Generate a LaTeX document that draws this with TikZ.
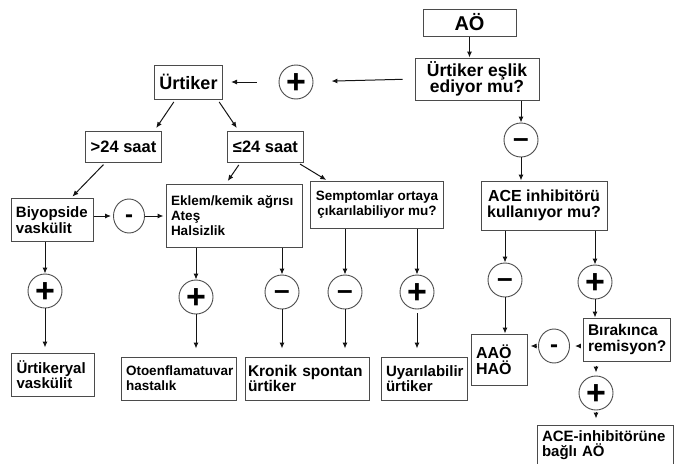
\documentclass[tikz,border=0pt]{standalone}
\usepackage{fontspec}
\setmainfont{Liberation Sans}
\usetikzlibrary{arrows.meta, shapes.geometric}
\definecolor{kutuCizgi}{RGB}{75, 75, 75}
\definecolor{okSiyah}{RGB}{20, 20, 20}
\newcommand{\artiisaret}{\raisebox{-0.35em}{+}}
\newcommand{\eksiisaret}{\raisebox{-0.27em}{–}}
\newcommand{\tireisaret}{\raisebox{-0.27em}{-}}

\begin{document}
\begin{tikzpicture}[x=1pt, y=-1pt,
    kutu/.style={draw=kutuCizgi, line width=1pt, inner xsep=5pt, inner ysep=2pt, align=center, font=\bfseries\fontsize{15}{15.5}\selectfont},
    solkutu/.style={kutu, align=left},
    isaret/.style={draw=kutuCizgi, circle, line width=0.9pt, minimum size=34pt, inner sep=0pt, text height=0pt, text depth=0pt},
    arti/.style={isaret, font=\bfseries\fontsize{34}{34}\selectfont},
    eksi/.style={isaret, font=\bfseries\fontsize{28}{28}\selectfont},
    kucukeksi/.style={isaret, ellipse, minimum width=31pt, minimum height=34pt, font=\bfseries\fontsize{24}{24}\selectfont},
    ok/.style={-{Latex[length=6pt,width=5pt]}, line width=1pt, okSiyah}]
    \useasboundingbox (0,0) rectangle (687,463);
    \clip (0,0) rectangle (687,463);

    % Ust kisim
    \node[kutu, minimum width=93pt, minimum height=27pt, font=\bfseries\fontsize{20}{20}\selectfont] (ao) at (469.5,22.5) {AÖ};
    \node[kutu, minimum width=124pt, minimum height=42pt, font=\bfseries\fontsize{17.5}{16.5}\selectfont] (eslik) at (477,79) {Ürtiker eşlik\\ediyor mu?};
    \node[arti] (arti1) at (296,82) {\artiisaret};
    \node[kutu, minimum width=67pt, minimum height=34pt, font=\bfseries\fontsize{18}{18}\selectfont] (urtiker) at (188.5,82) {Ürtiker};
    \node[eksi] (eksi2) at (521,140) {\eksiisaret};

    % Sure kutulari
    \node[kutu, minimum width=71pt, minimum height=31pt, font=\bfseries\fontsize{16.5}{16.5}\selectfont] (uzun) at (123.5,146.5) {>24 saat};
    \node[kutu, minimum width=71pt, minimum height=31pt, font=\bfseries\fontsize{16.5}{16.5}\selectfont] (kisa) at (265.5,146.5) {≤24 saat};

    % Orta sira
    \node[solkutu, text width=72pt, minimum height=43pt] (biyopsi) at (52,220) {Biyopside\\vaskülit};
    \node[kucukeksi] (eksi1) at (129,216) {\tireisaret};
    \node[solkutu, text width=126pt, minimum height=63pt, font=\bfseries\fontsize{13.5}{15}\selectfont] (eklem) at (234,215.5) {Eklem/kemik ağrısı\\Ateş\\Halsizlik};
    \node[kutu, minimum width=130pt, minimum height=47pt, font=\bfseries\fontsize{13.5}{15}\selectfont] (semptom) at (377,205) {Semptomlar ortaya\\çıkarılabiliyor mu?};
    \node[kutu, minimum width=126pt, minimum height=49pt, font=\bfseries\fontsize{16}{15.5}\selectfont] (ace) at (544,205.5) {ACE inhibitörü\\kullanıyor mu?};

    % Isaretler
    \node[arti] (arti2) at (45,291) {\artiisaret};
    \node[arti] (arti3) at (196,297) {\artiisaret};
    \node[eksi] (eksi3) at (282,292) {\eksiisaret};
    \node[eksi] (eksi4) at (345,292) {\eksiisaret};
    \node[arti] (arti4) at (417,292) {\artiisaret};
    \node[eksi] (eksi5) at (505,280) {\eksiisaret};
    \node[arti] (arti5) at (595,282) {\artiisaret};

    % Sonuc kutulari
    \node[solkutu, text width=73pt, minimum height=43pt] (urtvask) at (53,374.5) {Ürtikeryal\\vaskülit};
    \node[solkutu, text width=105pt, minimum height=43pt, font=\bfseries\fontsize{13.5}{15}\selectfont] (oto) at (178.5,378.5) {Otoenflamatuvar\\hastalık};
    \node[solkutu, inner xsep=3pt, text width=118pt, minimum height=43pt, font=\bfseries\fontsize{15.5}{15.5}\selectfont] (kronik) at (307,378.5) {Kronik spontan\\ürtiker};
    \node[solkutu, text width=76pt, minimum height=43pt] (uyar) at (424,378.5) {Uyarılabilir\\ürtiker};
    \node[solkutu, text width=46pt, minimum height=51pt, font=\bfseries\fontsize{16}{16}\selectfont] (aao) at (499,359.5) {AAÖ\\HAÖ};
    \node[kucukeksi] (eksi6) at (554,346) {\tireisaret};
    \node[solkutu, text width=77pt, minimum height=43pt, font=\bfseries\fontsize{15.5}{15.5}\selectfont] (biraki) at (626.5,339.5) {Bırakınca\\remisyon?};
    \node[arti] (arti6) at (596,393) {\artiisaret};
    \node[solkutu, text width=126pt, minimum height=40pt] (acebag) at (605,445) {ACE-inhibitörüne\\bağlı AÖ};

    % Oklar
    \draw[ok] (ao) -- (ao |- eslik.north);
    \draw[ok, shorten <=12pt, shorten >=18pt] (eslik.west) -- (arti1);
    \draw[ok, shorten <=22pt, shorten >=8pt] (arti1) -- (urtiker);
    \draw[ok, shorten <=3pt, shorten >=3pt] ([xshift=-13pt]urtiker.south) -- ([xshift=31pt]uzun.north);
    \draw[ok, shorten <=3pt, shorten >=3pt] ([xshift=29pt]urtiker.south) -- ([xshift=-27pt]kisa.north);
    \draw[ok, shorten <=3pt, shorten >=2pt] ([xshift=-18pt]uzun.south) -- ([xshift=19pt]biyopsi.north);
    \draw[ok, shorten <=3pt, shorten >=3pt] ([xshift=-25pt]kisa.south) -- ([xshift=-8pt]eklem.north);
    \draw[ok, shorten <=3pt, shorten >=2pt] ([xshift=32pt]kisa.south) -- ([xshift=-49pt]semptom.north);
    \draw[ok, shorten >=2pt] (biyopsi.east |- eksi1) -- (eksi1);
    \draw[ok, shorten >=2pt] (eksi1) -- (eksi1 -| eklem.west);

    \draw[ok] (arti2 |- biyopsi.south) -- (arti2);
    \draw[ok] (arti3 |- eklem.south) -- (arti3);
    \draw[ok] (eksi3 |- eklem.south) -- (eksi3);
    \draw[ok] (eksi4 |- semptom.south) -- (eksi4);
    \draw[ok] (arti4 |- semptom.south) -- (arti4);
    \draw[ok, shorten >=5pt] (arti2) -- (arti2 |- urtvask.north);
    \draw[ok, shorten >=8pt] (arti3) -- (arti3 |- oto.north);
    \draw[ok, shorten >=8pt] (eksi3) -- (eksi3 |- kronik.north);
    \draw[ok, shorten >=8pt] (eksi4) -- (eksi4 |- kronik.north);
    \draw[ok, shorten <=4pt, shorten >=8pt] (arti4) -- (arti4 |- uyar.north);

    \draw[ok] (eksi2 |- eslik.south) -- (eksi2);
    \draw[ok] (eksi2) -- (eksi2 |- ace.north);
    \draw[ok] (eksi5 |- ace.south) -- (eksi5);
    \draw[ok] (arti5 |- ace.south) -- (arti5);
    \draw[ok] (eksi5) -- (eksi5 |- aao.north);
    \draw[ok] (arti5) -- (arti5 |- biraki.north);
    % kisa oklar
    \draw[ok, shorten <=2pt, shorten >=5pt] (biraki.west |- eksi6) -- (eksi6);
    \draw[ok, shorten <=1pt, shorten >=3pt] (eksi6) -- (eksi6 -| aao.east);
    \draw[ok, shorten <=4pt, shorten >=3pt] (arti6 |- biraki.south) -- (arti6);
    \draw[ok, shorten <=2pt, shorten >=6pt] (arti6) -- (arti6 |- acebag.north);
\end{tikzpicture}
\end{document}
